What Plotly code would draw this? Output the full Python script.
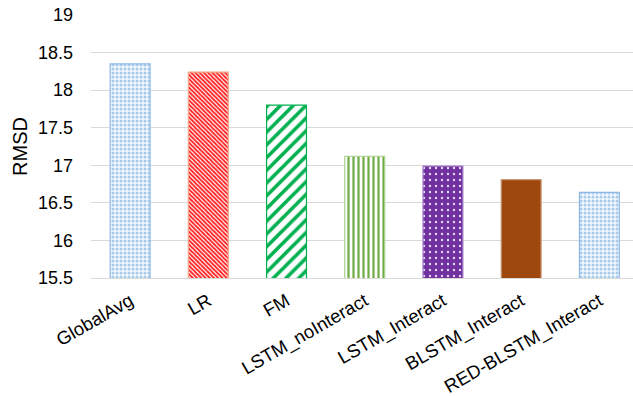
import plotly.graph_objects as go

# Model names and their RMSD scores
models = ["GlobalAvg", "LR", "FM", "LSTM_noInteract", "LSTM_Interact",
          "BLSTM_Interact", "RED-BLSTM_Interact"]
rmsd = [18.35, 18.24, 17.80, 17.12, 16.99, 16.81, 16.64]
y_ticks = [15.5, 16, 16.5, 17, 17.5, 18, 18.5, 19]

# Per-bar fill styles (pattern shape, foreground, background, border)
shapes = [".", "\\", "/", "|", ".", "", "."]
fg = ["#A9CBEA", "#FF2020", "#00B050", "#70AD47", "#E6D6F2", "#9E480E", "#A9CBEA"]
bg = ["#F2F7FD", "#FFFFFF", "#FFFFFF", "#FFFFFF", "#7030A0", "#9E480E", "#F2F7FD"]
pat_size = [4, 3, 9, 5, 6, 6, 4]
solidity = [0.45, 0.62, 0.4, 0.45, 0.12, 0.5, 0.45]
edge = ["#8DB8E3", "#F4A582", "#00B050", "#A9D18E", "#A47CC9", "#C99878", "#8DB8E3"]

fig = go.Figure()
for i, name in enumerate(models):
    pattern = dict(shape=shapes[i], fgcolor=fg[i], bgcolor=bg[i],
                   size=pat_size[i], solidity=solidity[i], fillmode="replace")
    fig.add_trace(
        go.Bar(
            x=[name],
            y=[rmsd[i]],
            width=0.51,
            name=name,
            marker=dict(
                color=bg[i] if shapes[i] == "" else fg[i],
                line=dict(color=edge[i], width=1.2),
                pattern=pattern,
            ),
        )
    )

fig.update_layout(
    width=633,
    height=396,
    margin=dict(l=91, r=0, t=15, b=118),
    plot_bgcolor="white",
    paper_bgcolor="white",
    showlegend=False,
    barmode="overlay",
    font=dict(family="Liberation Sans, Arial, sans-serif", color="#000000"),
    xaxis=dict(
        categoryorder="array",
        categoryarray=models,
        range=[-0.5, 6.43],
        tickangle=-30,
        tickfont=dict(size=18.5),
        showline=True,
        linecolor="#D9D9D9",
        linewidth=1,
        showgrid=False,
        ticks="",
        ticklabelstandoff=4,
        automargin=False,
    ),
    yaxis=dict(
        range=[15.5, 19],
        tickvals=y_ticks,
        ticktext=[f"{v:g}" for v in y_ticks],
        tickfont=dict(size=18),
        showgrid=True,
        gridcolor="#D9D9D9",
        gridwidth=1,
        zeroline=False,
        showline=False,
        ticks="",
        ticklabelstandoff=17,
        automargin=False,
        title=dict(text="RMSD", font=dict(size=20), standoff=4),
    ),
)

fig.write_html("out.html")
